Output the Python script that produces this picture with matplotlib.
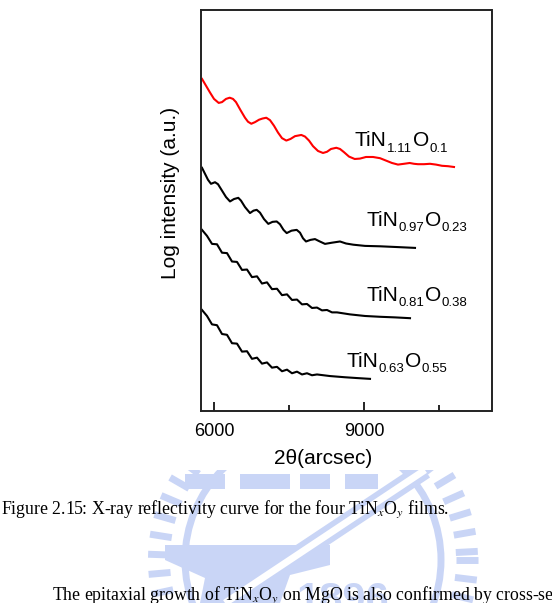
import numpy as np
import matplotlib
matplotlib.use('Agg')
import matplotlib.pyplot as plt
from matplotlib.patches import Polygon, Circle, Rectangle

plt.rcParams['font.family'] = ['Liberation Sans', 'DejaVu Sans']
plt.rcParams['mathtext.fontset'] = 'stix'

#*data (2theta in arcsec, log intensity in a.u.)
theta_111 = [5750, 5830, 5910, 5990, 6084, 6150, 6230, 6304, 6370, 6430, 6520, 6610, 6670, 6736, 6810, 6890, 6960,
             7036, 7110, 7190, 7270, 7350, 7436, 7520, 7610, 7736, 7810, 7890, 7970, 8070, 8170, 8250, 8330, 8436,
             8510, 8590, 8690, 8804, 8910, 9030, 9170, 9310, 9430, 9550, 9670, 9790, 9904, 9990, 10070, 10190,
             10310, 10430, 10550, 10670, 10790]
logI_111 = [8.28, 8.11, 7.94, 7.78, 7.68, 7.70, 7.78, 7.81, 7.78, 7.70, 7.50, 7.31, 7.21, 7.16, 7.20, 7.26, 7.29,
            7.31, 7.25, 7.11, 6.94, 6.80, 6.74, 6.78, 6.85, 6.88, 6.84, 6.74, 6.60, 6.48, 6.43, 6.46, 6.53, 6.56,
            6.53, 6.45, 6.34, 6.28, 6.29, 6.33, 6.33, 6.30, 6.24, 6.18, 6.14, 6.16, 6.18, 6.16, 6.15, 6.15,
            6.16, 6.14, 6.11, 6.10, 6.08]

theta_097 = [5750, 5810, 5870, 5930, 5970, 6010, 6070, 6150, 6230, 6310, 6390, 6476, 6530, 6610, 6710, 6780, 6844,
             6910, 6990, 7076, 7160, 7244, 7310, 7380, 7444, 7540, 7644, 7710, 7770, 7830, 7920, 8010, 8090, 8210,
             8350, 8510, 8630, 8776, 9010, 9310, 9670, 10010]
logI_097 = [6.06, 5.91, 5.76, 5.66, 5.68, 5.70, 5.65, 5.49, 5.33, 5.22, 5.28, 5.31, 5.24, 5.08, 4.93, 4.99, 5.01,
            4.94, 4.78, 4.66, 4.71, 4.72, 4.65, 4.51, 4.43, 4.49, 4.51, 4.44, 4.30, 4.22, 4.26, 4.28, 4.23, 4.16,
            4.19, 4.22, 4.17, 4.14, 4.11, 4.10, 4.08, 4.06]

theta_081 = [5750, 5850, 5950, 6050, 6150, 6250, 6350, 6450, 6550, 6650, 6750, 6850, 6950, 7050, 7150, 7250, 7350,
             7450, 7550, 7650, 7750, 7850, 7950, 8050, 8150, 8250, 8350, 8450, 8710, 9010, 9310, 9610, 9910]
logI_081 = [4.51, 4.36, 4.16, 4.15, 3.94, 3.93, 3.72, 3.71, 3.51, 3.52, 3.33, 3.35, 3.17, 3.20, 3.03, 3.04, 2.88,
            2.90, 2.76, 2.77, 2.65, 2.66, 2.56, 2.57, 2.50, 2.51, 2.45, 2.45, 2.40, 2.36, 2.34, 2.325, 2.305]

theta_063 = [5750, 5850, 5950, 6050, 6150, 6250, 6350, 6450, 6550, 6650, 6750, 6850, 6950, 7050, 7150, 7250, 7350,
             7450, 7550, 7650, 7750, 7850, 7950, 8050, 8310, 8610, 8850, 9110]
logI_063 = [2.51, 2.36, 2.15, 2.13, 1.91, 1.89, 1.68, 1.67, 1.47, 1.48, 1.29, 1.32, 1.17, 1.20, 1.07, 1.09, 0.98,
            1.02, 0.93, 0.97, 0.90, 0.93, 0.88, 0.90, 0.86, 0.83, 0.81, 0.79]

n_sub = ['1.11', '0.97', '0.81', '0.63']
o_sub = ['0.1', '0.23', '0.38', '0.55']
colors = ['red', 'black', 'black', 'black']
label_pos = [(8804, 6.595), (9044, 4.61), (9044, 2.74), (8640, 1.09)]

major_ticks = [6000, 9000]
minor_ticks = [7500, 10500]

fig = plt.figure(figsize=(5.52, 6.03), dpi=100)

# watermark (only the part below the chart picture shows)
wm_col = '#c9d5f6'
wm = fig.add_axes([0, 0, 1, 133 / 603], zorder=-1)
wm.set_xlim(0, 552)
wm.set_ylim(603, 470)
wm.axis('off')
cx, cy = 313, 560
for a in np.deg2rad(np.arange(0, 360, 7)):
    wm.plot([cx + 143 * np.cos(a), cx + 165 * np.cos(a)], [cy + 143 * np.sin(a), cy + 165 * np.sin(a)],
            color=wm_col, lw=5, solid_capstyle='butt')
wm.add_patch(Circle((cx, cy), 128, fill=False, lw=5, ec=wm_col))
wm.add_patch(Polygon([(165, 545), (330, 545), (330, 565), (290, 575), (280, 603), (200, 603), (205, 578), (165, 560)],
                     closed=True, fc=wm_col, ec='none'))
for x0, x1 in [(185, 225), (240, 290), (300, 330), (345, 378)]:
    wm.add_patch(Rectangle((x0, 474), x1 - x0, 15, fc=wm_col, ec='none'))
wm.plot([225, 425], [603, 470], color=wm_col, lw=13, solid_capstyle='butt')
wm.plot([225, 425], [603, 470], color='white', lw=5, solid_capstyle='butt')
wm.text(343, 612, '1896', fontsize=30, weight='bold', color=wm_col, ha='center', va='baseline')

# main chart
ax = fig.add_axes([201 / 552, 192.5 / 603, 290.5 / 552, 400.5 / 603])
curves = [(theta_111, logI_111), (theta_097, logI_097), (theta_081, logI_081), (theta_063, logI_063)]
for (tx, ly), c in zip(curves, colors):
    ax.plot(tx, ly, color=c, lw=1.5, solid_joinstyle='round')

ax.set_xlim(5730, 11540)
ax.set_ylim(0, 10)
ax.set_yticks([])
ax.set_xticks(major_ticks)
ax.set_xticks(minor_ticks, minor=True)
ax.tick_params(axis='x', which='major', direction='in', length=6.5, width=1.2, labelsize=13, pad=9)
ax.tick_params(axis='x', which='minor', direction='in', length=4, width=1.2)
for s in ax.spines.values():
    s.set_linewidth(1.4)
    s.set_color('#222222')

ax.set_xlabel('2θ(arcsec)', fontsize=15)
ax.xaxis.set_label_coords(0.42, -0.095)
fig.text(170 / 552, 1 - 193 / 603, 'Log intensity (a.u.)', rotation=90, ha='center', va='center', fontsize=15)


def formula(x, y, ns, os_):
    t0 = ax.text(x, y, 'TiN', fontsize=15, va='baseline', ha='left')
    t1 = ax.annotate(ns, xy=(1, 0), xycoords=t0, xytext=(0.3, -3.2), textcoords='offset points',
                     fontsize=9.5, va='bottom')
    t2 = ax.annotate('O', xy=(1, 0), xycoords=(t1, t0), xytext=(0.3, 0), textcoords='offset points',
                     fontsize=15, va='bottom')
    ax.annotate(os_, xy=(1, 0), xycoords=(t2, t0), xytext=(0.3, -3.2), textcoords='offset points',
                fontsize=9.5, va='bottom')


for (lx, lyy), ns, os_ in zip(label_pos, n_sub, o_sub):
    formula(lx, lyy, ns, os_)

# caption and running text
fig.text(1 / 552, 1 - 514 / 603, r'Figure 2.15: X-ray reflectivity curve for the four TiN$_x$O$_y$ films.',
         family='Liberation Serif', fontsize=12.8, ha='left', va='baseline')
fig.text(52 / 552, 1 - 600 / 603, r'The epitaxial growth of TiN$_x$O$_y$ on MgO is also confirmed by cross-section',
         family='Liberation Serif', fontsize=12.8, ha='left', va='baseline')

fig.savefig('out.png', dpi=100)
